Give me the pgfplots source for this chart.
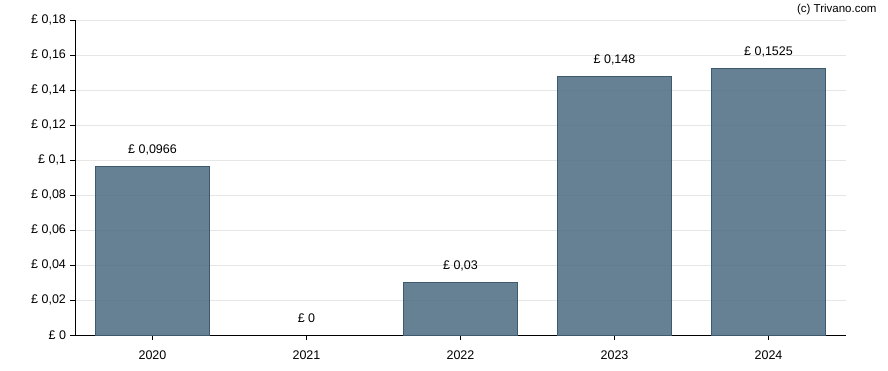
\documentclass[border=0pt]{standalone}
\usepackage{pgfplots}
\pgfplotsset{compat=1.18}
\usepackage{fontspec}
\setmainfont{Liberation Sans}
\definecolor{barfill}{RGB}{74,107,128}
\definecolor{baredge}{RGB}{62,90,110}
\definecolor{gridc}{RGB}{230,230,230}
\begin{document}
\begin{tikzpicture}
\useasboundingbox (-75.5pt,-35pt) rectangle (812.5pt,335pt);
\begin{axis}[
  at={(0,0)}, anchor=south west,
  scale only axis,
  width=770pt, height=314.7pt,
  xmin=-0.5, xmax=4.5,
  ymin=0, ymax=0.18,
  axis lines=left,
  axis line style={-, black, line width=0.9pt},
  xtick={0,1,2,3,4},
  xticklabels={2020,2021,2022,2023,2024},
  ytick={0,0.02,0.04,0.06,0.08,0.1,0.12,0.14,0.16,0.18},
  yticklabel={£ \pgfmathprintnumber{\tick}},
  yticklabel style={/pgf/number format/fixed, /pgf/number format/precision=4, /pgf/number format/use comma, /pgf/number format/assume math mode=true, anchor=east, xshift=-1pt},
  tick align=outside,
  major tick length=5pt,
  tick style={black, line width=0.9pt},
  ymajorgrids,
  grid style={gridc, line width=0.8pt},
  ticklabel style={font=\fontsize{12.5pt}{14pt}\selectfont},
  xticklabel style={anchor=base, yshift=-19pt, inner sep=0pt},
  enlargelimits=false,
  clip=false,
]
\addplot[ybar, bar width=0.742, fill=barfill, fill opacity=0.85, draw=baredge, line width=0.8pt,
  point meta=explicit symbolic,
  nodes near coords,
  nodes near coords style={anchor=base, yshift=13pt, inner sep=0pt, text opacity=1, fill opacity=1, black, font=\fontsize{12.5pt}{14pt}\selectfont},
] table[meta=label] {
x y label
0 0.0966 {£ 0,0966}
2 0.03 {£ 0,03}
3 0.148 {£ 0,148}
4 0.1525 {£ 0,1525}
};
\addplot[draw=none, mark=none,
  point meta=explicit symbolic,
  nodes near coords,
  nodes near coords style={anchor=base, yshift=13pt, inner sep=0pt, black, font=\fontsize{12.5pt}{14pt}\selectfont},
] table[meta=label] {
x y label
1 0 {£ 0}
};
\end{axis}
\node[anchor=base east, inner sep=0pt, font=\fontsize{11.5pt}{13pt}\selectfont] at (801.2pt,322pt) {(c) Trivano.com};
\end{tikzpicture}
\end{document}
